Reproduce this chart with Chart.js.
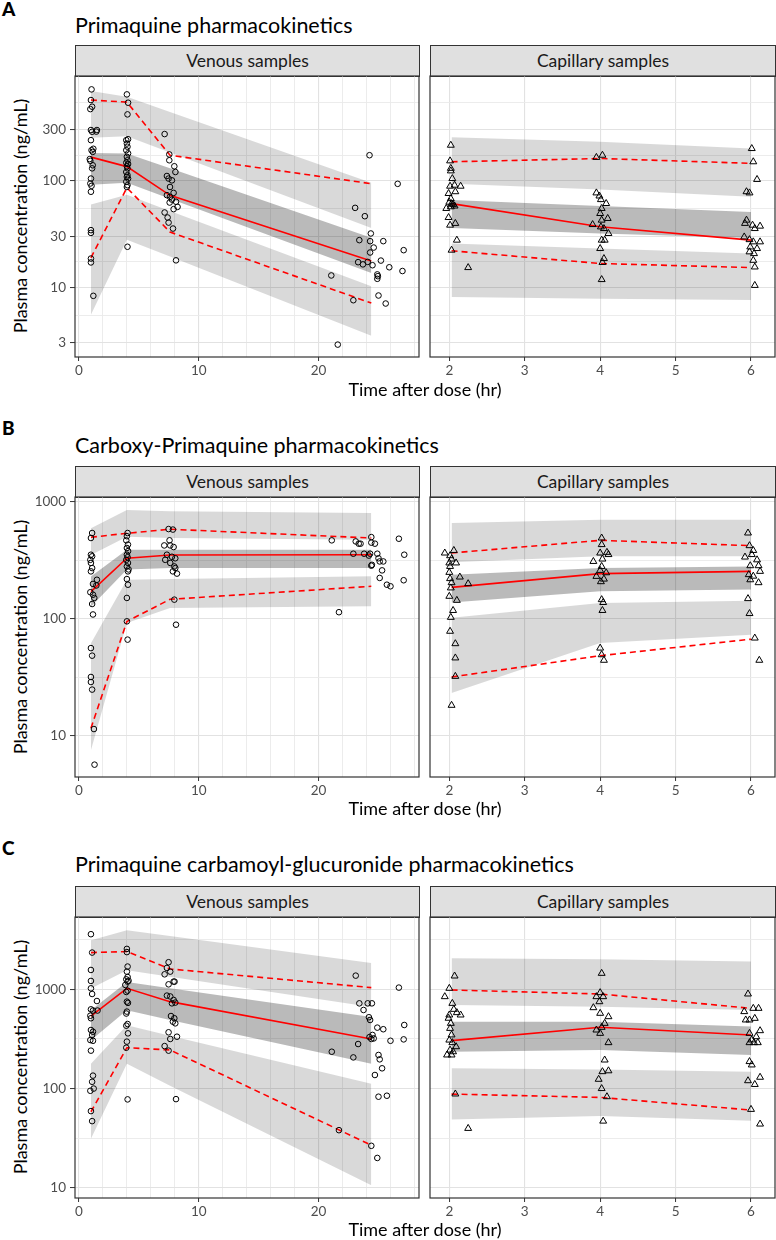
<!DOCTYPE html>
<html>
<head>
<meta charset="utf-8">
<script src="https://cdn.jsdelivr.net/npm/chart.js@4.4.1/dist/chart.umd.min.js"></script>
<style>
    body { margin: 0; background: #fff; width: 776px; height: 1240px; position: relative; overflow: hidden; font-family: Lato, "Open Sans", sans-serif; }
    .tag { position: absolute; left: 2px; font-weight: 900; font-size: 19px; line-height: 19px; color: #000; }
    .titulo { position: absolute; left: 75px; font-size: 21.5px; line-height: 21.5px; color: #000; white-space: nowrap; }
    .strip { position: absolute; height: 32px; box-sizing: border-box; border: 1px solid #333; background: #e0e0e0;
        text-align: center; font-size: 17.5px; line-height: 30px; color: #1a1a1a; }
    .ytitulo { position: absolute; left: -140px; width: 320px; height: 22px; line-height: 22px; text-align: center;
        font-size: 18px; color: #000; transform: rotate(-90deg); white-space: nowrap; }
    .xtitulo { position: absolute; left: 225px; width: 400px; text-align: center; font-size: 18px; line-height: 22px; color: #000; }
    canvas { position: absolute; }
</style>
</head>
<body>

<div class="tag" style="top:-1px">A</div>
<div class="titulo" style="top:14.5px">Primaquine pharmacokinetics</div>
<div class="strip" style="left:75px;top:45px;width:345px">Venous samples</div>
<div class="strip" style="left:430px;top:45px;width:346px">Capillary samples</div>
<div class="ytitulo" style="top:205px">Plasma concentration (ng/mL)</div>
<canvas id="vA"></canvas>
<canvas id="cA"></canvas>
<div class="xtitulo" style="top:378px">Time after dose (hr)</div>

<div class="tag" style="top:418px">B</div>
<div class="titulo" style="top:434.5px">Carboxy-Primaquine pharmacokinetics</div>
<div class="strip" style="left:75px;top:466px;width:345px">Venous samples</div>
<div class="strip" style="left:430px;top:466px;width:346px">Capillary samples</div>
<div class="ytitulo" style="top:626px">Plasma concentration (ng/mL)</div>
<canvas id="vB"></canvas>
<canvas id="cB"></canvas>
<div class="xtitulo" style="top:797px">Time after dose (hr)</div>

<div class="tag" style="top:838px">C</div>
<div class="titulo" style="top:854px">Primaquine carbamoyl-glucuronide pharmacokinetics</div>
<div class="strip" style="left:75px;top:886px;width:345px">Venous samples</div>
<div class="strip" style="left:430px;top:886px;width:346px">Capillary samples</div>
<div class="ytitulo" style="top:1046px">Plasma concentration (ng/mL)</div>
<canvas id="vC"></canvas>
<canvas id="cC"></canvas>
<div class="xtitulo" style="top:1218px">Time after dose (hr)</div>

<script>
// ticks dos eixos
const xTicksVen = [0, 2, 4, 6, 8, 10, 12, 14, 16, 18, 20, 22, 24, 26, 28];
const xTicksCap = [2, 3, 4, 5, 6];
const yMajorA = [3, 10, 30, 100, 300];
const yMinorA = [5.48, 17.3, 54.8, 173, 548];
const yMajorBC = [10, 100, 1000];
const yMinorB = [31.6, 316];
const yMinorC = [31.6, 316, 3162];

// ---------- A: primaquine ----------
const binsVA = [1.0, 4.0, 7.6, 24.4];
const medVA = [167, 136, 73, 17.6];
const p95VA = [574, 549, 174, 94];
const p05VA = [18.9, 86, 33, 7.1];
const hiTopVA = [697, 617, 444, 96];
const hiBotVA = [254, 263, 185, 36];
const midTopVA = [183, 181, 131, 29.1];
const midBotVA = [92, 96, 68, 13.6];
const loTopVA = [60, 74, 52, 10.2];
const loBotVA = [5.5, 28, 19.4, 3.5];
const obsVA = [
    [1.05, 723], [1.0, 574], [1.1, 497], [0.95, 472], [1.0, 300], [1.1, 289], [1.5, 300], [1.45, 290], [1.0, 241],
    [1.2, 200], [1.05, 194], [1.15, 187], [0.9, 160], [0.95, 154], [1.15, 140], [1.1, 131], [1.0, 105], [0.95, 94.4],
    [1.05, 89.7], [1.0, 78.9], [1.0, 34.4], [1.0, 32.4], [1.0, 18.6], [1.0, 17.1], [1.2, 8.3],
    [4.0, 649], [4.1, 542], [4.05, 421], [3.95, 241], [4.1, 246], [4.0, 224], [4.05, 209], [3.95, 194], [4.1, 181],
    [4.0, 168], [4.05, 156], [3.95, 148], [4.1, 144], [4.0, 137], [4.05, 131], [3.95, 121], [4.05, 113], [4.0, 109],
    [4.1, 105], [3.95, 98], [4.05, 91], [4.0, 87.5], [4.05, 24],
    [7.15, 275], [7.54, 177], [7.54, 156], [7.96, 137], [8.05, 121], [7.34, 111], [7.48, 105], [7.76, 101], [7.6, 87.5],
    [7.34, 73.3], [7.6, 70.7], [7.9, 77], [7.57, 62.5], [7.76, 66.6], [8.1, 63.6], [7.9, 54.2], [8.23, 56.9], [7.15, 50.4],
    [7.4, 45.2], [7.48, 40.5], [7.85, 35.6], [8.1, 17.9],
    [24.25, 174], [26.6, 93.7], [23.05, 55.7], [23.86, 46.5], [24.36, 32], [23.4, 27.7], [24.3, 27.1], [25.4, 27.1],
    [24.6, 23.6], [27.1, 22.3], [24.3, 21.2], [25.2, 17.8], [24.1, 17.3], [23.3, 17.2], [23.7, 16.4], [24.5, 16.1],
    [25.9, 15.4], [27.0, 14.2], [21.06, 12.9], [24.9, 13.2], [24.95, 12.7], [24.9, 12.0], [22.9, 7.55], [25.0, 8.36],
    [25.6, 7.03], [21.6, 2.89]
];

const binsCA = [2.03, 4.0, 6.0];
const medCA = [61, 37, 27.7];
const p95CA = [151, 162, 146];
const p05CA = [22, 16.7, 15.3];
const hiTopCA = [256, 233, 201];
const hiBotCA = [94, 83, 71];
const midTopCA = [66, 58, 51];
const midBotCA = [36, 32, 29];
const loTopCA = [25.7, 23.1, 20.7];
const loBotCA = [8.1, 7.8, 7.6];
const obsCA = [
    [2.02, 216], [2.01, 154], [2.02, 131], [2.02, 124], [2.04, 105], [2.01, 89], [2.07, 91], [2.15, 89], [1.99, 76],
    [2.08, 79], [1.96, 55], [2.03, 61], [2.05, 60], [2.02, 57], [2.07, 58], [2.0, 63], [2.02, 68], [1.99, 45.2],
    [2.01, 38.3], [2.08, 39.8], [2.1, 27.7], [2.03, 22.3], [2.25, 15.3],
    [3.95, 166], [4.03, 174], [3.95, 77], [3.99, 72], [4.01, 66.6], [4.08, 61.2], [4.02, 55], [4.0, 49.3], [4.1, 44.3],
    [4.02, 42.7], [3.9, 38.8], [4.01, 36.9], [4.05, 35.6], [4.11, 32], [4.02, 27.7], [4.06, 27.7], [4.0, 23.1],
    [4.05, 18.6], [4.03, 17.1], [4.02, 11.8],
    [6.01, 201], [6.03, 151], [6.08, 103], [5.94, 79], [5.98, 77], [5.94, 42.7], [5.92, 39.8], [6.02, 38.3], [6.12, 37.5],
    [6.05, 35.6], [5.91, 29.7], [5.98, 28], [6.03, 26.7], [6.12, 26.7], [5.99, 23.9], [6.08, 23.1], [5.98, 21.5],
    [6.04, 20.7], [6.03, 17.9], [6.05, 15.5], [6.05, 10.4]
];

// ---------- B: carboxy-primaquine ----------
const binsVB = [1.0, 4.0, 7.6, 24.4];
const medVB = [171, 330, 352, 354];
const p95VB = [499, 540, 585, 492];
const p05VB = [11.6, 95, 147, 190];
const hiTopVB = [595, 855, 832, 805];
const hiBotVB = [352, 505, 492, 476];
const midTopVB = [230, 391, 391, 391];
const midBotVB = [127, 264, 272, 272];
const loTopVB = [61.7, 216, 219, 231];
const loBotVB = [7.5, 92, 124, 128];
const obsVB = [
    [1.1, 543], [1.0, 492], [1.0, 354], [1.1, 343], [0.95, 320], [1.0, 301], [1.1, 272], [1.0, 255], [1.5, 216],
    [1.17, 199], [1.45, 193], [0.95, 169], [1.17, 161], [1.28, 151], [1.1, 134], [1.17, 109], [1.0, 56.2], [1.1, 48.4],
    [1.0, 31.8], [1.0, 28.8], [1.1, 24.8], [1.25, 11.4], [1.3, 5.65],
    [4.06, 543], [4.0, 510], [3.95, 470], [4.09, 432], [4.0, 404], [4.1, 380], [4.0, 354], [4.06, 337], [3.95, 320],
    [4.09, 301], [4.0, 281], [4.14, 265], [4.09, 255], [4.0, 219], [4.09, 196], [4.0, 151], [4.0, 95.2], [4.06, 66.4],
    [7.48, 587], [7.84, 581], [7.12, 425], [7.56, 470], [7.62, 425], [7.9, 412], [7.34, 354], [7.76, 340], [8.04, 330],
    [7.2, 320], [7.62, 301], [7.96, 281], [8.04, 272], [7.84, 255], [8.18, 244], [7.96, 146], [8.1, 89.1],
    [21.1, 470], [21.7, 114], [22.9, 361], [23.1, 460], [23.35, 440], [23.5, 440], [23.8, 361], [24.2, 348], [24.3, 361],
    [24.4, 285], [24.45, 290], [24.4, 501], [24.4, 449], [24.7, 440], [24.9, 361], [25.0, 330], [25.1, 310], [25.4, 310],
    [25.3, 260], [25.1, 224], [25.7, 196], [26.0, 190], [26.7, 485], [27.15, 354], [27.1, 214]
];

const binsCB = [2.03, 4.0, 6.0];
const medCB = [186, 244, 255];
const p95CB = [366, 470, 423];
const p05CB = [31.8, 48.4, 67];
const hiTopCB = [661, 706, 706];
const hiBotCB = [305, 343, 343];
const midTopCB = [239, 272, 281];
const midBotCB = [138, 172, 178];
const loTopCB = [102, 137, 143];
const loBotCB = [23.2, 62, 73];
const obsCB = [
    [1.94, 366], [2.06, 385], [2.01, 347], [2.03, 325], [2.0, 301], [2.09, 301], [2.01, 281], [2.0, 250], [2.14, 228],
    [2.01, 221], [2.03, 204], [2.25, 200], [2.02, 184], [2.0, 156], [2.1, 144], [2.05, 118], [2.02, 103], [2.01, 78.3],
    [2.08, 61.3], [2.08, 46.3], [2.08, 32.2], [2.03, 18.2],
    [4.02, 492], [4.02, 432], [4.0, 366], [4.09, 371], [4.11, 355], [4.03, 325], [3.91, 310], [4.02, 281], [4.0, 260],
    [4.08, 248], [3.95, 231], [4.05, 219], [4.01, 208], [4.02, 146], [4.04, 138], [4.03, 118], [4.0, 56.2], [4.02, 49.3],
    [4.05, 44.2],
    [5.96, 543], [5.98, 423], [6.03, 385], [5.92, 338], [6.01, 355], [6.08, 320], [5.99, 285], [6.1, 285], [6.12, 255],
    [5.97, 239], [6.03, 232], [5.99, 216], [6.1, 204], [5.96, 149], [5.98, 111], [6.05, 68.5], [6.11, 44.2]
];

// ---------- C: carbamoyl-glucuronide ----------
const binsVC = [1.0, 4.0, 7.6, 24.4];
const medVC = [538, 1023, 751, 316];
const p95VC = [2344, 2400, 1603, 1040];
const p05VC = [58.4, 258, 245, 26.9];
const hiTopVC = [3119, 3935, 3436, 1845];
const hiBotVC = [1016, 1556, 1337, 664];
const midTopVC = [614, 1186, 1026, 526];
const midBotVC = [306, 614, 491, 178];
const loTopVC = [178, 434, 340, 112];
const loBotVC = [31.2, 178, 107, 10.6];
const obsVC = [
    [1.0, 3590], [1.1, 2344], [1.0, 1566], [1.0, 1214], [1.0, 1023], [1.1, 897], [1.5, 762], [1.0, 628], [1.17, 611],
    [0.95, 542], [1.0, 511], [1.55, 611], [1.0, 389], [1.17, 374], [1.1, 347], [0.95, 308], [1.17, 303], [1.0, 241],
    [1.17, 135], [1.1, 117], [1.23, 100], [0.95, 95], [1.0, 59.3], [1.1, 47],
    [4.0, 2553], [4.0, 2370], [4.06, 1695], [4.0, 1507], [4.06, 1330], [3.95, 1260], [4.14, 1220], [4.06, 1195],
    [3.87, 1106], [4.06, 970], [3.95, 940], [4.0, 751], [4.09, 730], [4.0, 596], [3.95, 570], [4.06, 447], [3.95, 430],
    [4.09, 360], [4.0, 297], [3.95, 258], [4.06, 77.8],
    [7.48, 1874], [7.15, 1416], [7.62, 1507], [7.34, 1641], [7.9, 1195], [7.48, 1122], [7.98, 1195], [7.34, 864],
    [7.62, 847], [7.9, 781], [7.76, 722], [8.04, 735], [7.68, 538], [7.96, 511], [7.84, 472], [8.04, 454], [7.48, 369],
    [7.62, 316], [8.18, 333], [7.15, 268], [7.48, 241], [8.1, 78.3],
    [21.1, 235], [22.9, 206], [23.1, 1373], [23.4, 722], [23.75, 619], [24.1, 722], [24.45, 722], [24.2, 523], [24.3, 491],
    [23.3, 281], [24.4, 316], [24.5, 347], [24.25, 330], [24.6, 320], [24.9, 411], [25.4, 396], [26.0, 303], [25.0, 218],
    [25.1, 197], [25.3, 160], [24.7, 137], [25.0, 82.8], [25.7, 84.7], [24.4, 26.5], [24.9, 20.0], [21.7, 38.1],
    [26.7, 1040], [27.15, 437], [27.1, 313]
];

const binsCC = [2.03, 4.0, 6.0];
const medCC = [304, 414, 347];
const p95CC = [984, 897, 643];
const p05CC = [88, 81.5, 60.7];
const hiTopCC = [2054, 2010, 1903];
const hiBotCC = [695, 669, 619];
const midTopCC = [472, 472, 421];
const midBotCC = [235, 244, 218];
const loTopCC = [160, 156, 148];
const loBotCC = [48.9, 52.8, 47.4];
const obsCC = [
    [2.07, 1361], [2.0, 1023], [1.94, 843], [2.04, 722], [2.06, 628], [2.1, 582], [2.15, 551], [2.0, 551], [1.99, 511],
    [2.02, 454], [2.01, 404], [2.03, 347], [2.0, 308], [2.04, 290], [2.09, 264], [2.01, 244], [2.05, 235], [1.97, 218],
    [2.03, 218], [2.08, 88.2], [2.25, 39.7],
    [4.02, 1448], [4.0, 925], [3.95, 843], [4.04, 843], [3.99, 750], [3.91, 653], [4.0, 573], [4.11, 530], [4.06, 454],
    [4.02, 414], [3.95, 389], [4.0, 360], [4.11, 290], [4.06, 194], [4.03, 148], [4.11, 151], [3.98, 124], [4.02, 100],
    [4.09, 82.8], [4.04, 47],
    [5.96, 897], [6.03, 643], [6.1, 643], [5.91, 596], [5.98, 491], [6.05, 510], [5.93, 491], [6.12, 383], [5.98, 360],
    [6.07, 333], [6.01, 309], [5.98, 290], [6.04, 290], [6.09, 290], [5.98, 187], [6.01, 173], [5.96, 120], [6.12, 130],
    [6.05, 110], [6.0, 61.7], [6.12, 43.9]
];

// posicao de cada linha de paineis (em px) e faixa do eixo y
const linhas = {
    A: { top: 76, bottom: 357, yMin: 2.21, yMax: 966, yMajor: yMajorA, yMinor: yMinorA },
    B: { top: 497, bottom: 777, yMin: 4.43, yMax: 1104, yMajor: yMajorBC, yMinor: yMinorB },
    C: { top: 917, bottom: 1198, yMin: 7.9, yMax: 5350, yMajor: yMajorBC, yMinor: yMinorC }
};

Chart.defaults.font.family = 'Lato, "Open Sans", sans-serif';

const corClara = 'rgba(0, 0, 0, 0.15)';
const corEscura = 'rgba(0, 0, 0, 0.27)';
const vermelho = '#ff0000';

const gridCor = c => (c.tick && c.tick.minor) ? '#eaeaea' : '#e2e2e2';
const gridLarg = c => (c.tick && c.tick.minor) ? 0.9 : 1.1;
const tickCor = c => (c.tick && c.tick.minor) ? 'rgba(0,0,0,0)' : '#333333';

// moldura do painel (igual ao theme_bw)
const moldura = {
    id: 'moldura',
    afterDatasetsDraw(chart) {
        const { ctx, chartArea: a } = chart;
        ctx.save();
        ctx.strokeStyle = '#333333';
        ctx.lineWidth = 1.2;
        ctx.strokeRect(a.left, a.top, a.right - a.left, a.bottom - a.top);
        ctx.restore();
    }
};

function pontos(xs, ys) {
    return xs.map((x, i) => ({ x: x, y: ys[i] }));
}

function faixa(xs, cima, baixo, cor) {
    return [
        { data: pontos(xs, cima), fill: '+1', backgroundColor: cor, borderColor: 'rgba(0,0,0,0)', borderWidth: 0, pointRadius: 0, order: 2 },
        { data: pontos(xs, baixo), fill: false, borderColor: 'rgba(0,0,0,0)', borderWidth: 0, pointRadius: 0, order: 2 }
    ];
}

function desenhaPainel(id, linha, venoso, bins, med, p95, p05, hiTop, hiBot, midTop, midBot, loTop, loBot, obs) {
    const cv = document.getElementById(id);
    const altura = linha.bottom - linha.top + 14 + 30;
    const largura = venoso ? 420 : 356;
    cv.width = largura;
    cv.height = altura;
    cv.style.width = largura + 'px';
    cv.style.height = altura + 'px';
    cv.style.left = (venoso ? 0 : 420) + 'px';
    cv.style.top = (linha.top - 14) + 'px';

    const xTicks = venoso ? xTicksVen : xTicksCap;
    const yTicks = linha.yMajor.map(v => ({ value: v }))
        .concat(linha.yMinor.map(v => ({ value: v, minor: true })))
        .sort((a, b) => a.value - b.value);

    const datasets = [
        {
            data: obs.map(o => ({ x: o[0], y: o[1] })), showLine: false,
            pointStyle: venoso ? 'circle' : 'triangle', pointRadius: venoso ? 2.8 : 4,
            pointBorderWidth: 1, pointBorderColor: '#000', pointBackgroundColor: 'rgba(0,0,0,0)', order: 0
        },
        { data: pontos(bins, med), borderColor: vermelho, borderWidth: 1.6, pointRadius: 0, fill: false, order: 1 },
        { data: pontos(bins, p95), borderColor: vermelho, borderWidth: 1.6, borderDash: [6, 4], pointRadius: 0, fill: false, order: 1 },
        { data: pontos(bins, p05), borderColor: vermelho, borderWidth: 1.6, borderDash: [6, 4], pointRadius: 0, fill: false, order: 1 }
    ].concat(
        faixa(bins, hiTop, hiBot, corClara),
        faixa(bins, midTop, midBot, corEscura),
        faixa(bins, loTop, loBot, corClara)
    );

    new Chart(cv, {
        type: 'line',
        data: { datasets: datasets },
        options: {
            responsive: false,
            devicePixelRatio: 1,
            animation: false,
            events: [],
            layout: { padding: { top: 14, right: 1, left: 0, bottom: 0 }, autoPadding: false },
            plugins: { legend: { display: false }, tooltip: { enabled: false } },
            scales: {
                x: {
                    type: 'linear',
                    min: venoso ? -0.33 : 1.744,
                    max: venoso ? 28.38 : 6.318,
                    afterBuildTicks: s => { s.ticks = xTicks.map(v => ({ value: v, minor: venoso && v % 10 !== 0 })); },
                    afterFit: s => { s.height = 30; },
                    ticks: {
                        autoSkip: false, maxRotation: 0, color: '#4d4d4d', font: { size: 13.5 }, padding: 2,
                        callback: (v, i, t) => t[i].minor ? '' : String(v)
                    },
                    grid: { color: gridCor, lineWidth: gridLarg, tickColor: tickCor, tickLength: 4, tickWidth: 1 },
                    border: { display: false }
                },
                y: {
                    type: 'logarithmic',
                    min: linha.yMin,
                    max: linha.yMax,
                    afterBuildTicks: s => { s.ticks = yTicks.map(t => Object.assign({}, t)); },
                    afterFit: s => { s.width = venoso ? 75 : 10; },
                    ticks: {
                        display: venoso, autoSkip: false, color: '#4d4d4d', font: { size: 13.5 }, padding: 4,
                        callback: (v, i, t) => t[i].minor ? '' : String(v)
                    },
                    grid: { color: gridCor, lineWidth: gridLarg, tickColor: tickCor, tickLength: 5, tickWidth: 1, drawTicks: venoso },
                    border: { display: false }
                }
            }
        },
        plugins: [moldura]
    });
}

window.addEventListener('load', function () {
    desenhaPainel('vA', linhas.A, true, binsVA, medVA, p95VA, p05VA, hiTopVA, hiBotVA, midTopVA, midBotVA, loTopVA, loBotVA, obsVA);
    desenhaPainel('cA', linhas.A, false, binsCA, medCA, p95CA, p05CA, hiTopCA, hiBotCA, midTopCA, midBotCA, loTopCA, loBotCA, obsCA);
    desenhaPainel('vB', linhas.B, true, binsVB, medVB, p95VB, p05VB, hiTopVB, hiBotVB, midTopVB, midBotVB, loTopVB, loBotVB, obsVB);
    desenhaPainel('cB', linhas.B, false, binsCB, medCB, p95CB, p05CB, hiTopCB, hiBotCB, midTopCB, midBotCB, loTopCB, loBotCB, obsCB);
    desenhaPainel('vC', linhas.C, true, binsVC, medVC, p95VC, p05VC, hiTopVC, hiBotVC, midTopVC, midBotVC, loTopVC, loBotVC, obsVC);
    desenhaPainel('cC', linhas.C, false, binsCC, medCC, p95CC, p05CC, hiTopCC, hiBotCC, midTopCC, midBotCC, loTopCC, loBotCC, obsCC);
});
</script>
</body>
</html>
